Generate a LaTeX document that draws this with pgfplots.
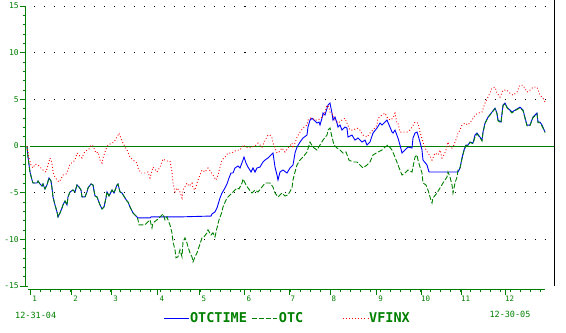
\documentclass[border=0pt]{standalone}
\usepackage{pgfplots}
\pgfplotsset{compat=1.18}
\usepackage{fontspec}
\setmainfont{DejaVu Sans Mono}
\definecolor{dgreen}{RGB}{0,128,0}
\definecolor{pblue}{RGB}{0,0,255}
\definecolor{pred}{RGB}{255,0,0}
\begin{document}
\begin{tikzpicture}
\begin{axis}[
  x=1pt, y=9.333pt,
  xmin=26, xmax=554, ymin=-15.33, ymax=15.65,
  clip=false,
  axis x line*=bottom, axis y line*=left,
  x axis line style={draw=none}, y axis line style={draw=none},
  tick align=outside,
  major tick length=6pt, minor tick length=3pt,
  every tick/.style={dgreen, line width=1pt},
  ytick={-15,-10,-5,0,5,10,15},
  yticklabels={-15,-10,-5,0,5,10,15},
  minor ytick={-14,-13,-12,-11,-9,-8,-7,-6,-4,-3,-2,-1,1,2,3,4,6,7,8,9,11,12,13,14},
  xtick={30.7,71.7,111.7,158,200,245,289,330,376.7,421.7,461.7,505.7},
  xticklabels={1,2,3,4,5,6,7,8,9,10,11,12},
  minor xtick={30.7,40.7,...,541},
  yticklabel style={text=dgreen, font=\fontsize{8}{9}\selectfont, inner sep=1pt},
  xticklabel style={text=dgreen, font=\fontsize{7.5}{8}\selectfont, xshift=4pt, inner sep=1pt},
  legend columns=3,
  legend style={at={(axis cs:163,-18.43)}, anchor=west, draw=none, fill=none,
    inner sep=0pt, nodes={inner sep=1pt, text=dgreen},
    font=\bfseries\fontsize{13.5}{14}\selectfont,
    /tikz/every even column/.append style={column sep=4pt}},
  legend image code/.code={\draw[#1] (0pt,0pt) -- (25pt,0pt);},
]
% grid dots
\foreach \v in {-10,-5,5,10,15} {
  \edef\temp{\noexpand\draw[black, line width=1pt, dash pattern=on 1pt off 9pt] (axis cs:34.5,\v) -- (axis cs:549,\v);}
  \temp
}
% zero line
\draw[dgreen, line width=1pt] (axis cs:30,0) -- (axis cs:554,0);
% axes
\draw[dgreen, line width=1pt] (axis cs:26,15) -- (axis cs:26,-15) -- (axis cs:28,-15);
\draw[dgreen, line width=1pt] (axis cs:28,-15.33) -- (axis cs:545,-15.33);
\draw[black, line width=1pt] (axis cs:554,15.65) -- (axis cs:554,-15.0);

\addplot[pblue, line width=0.9pt] table {
27 0
28 -1.18
30 -2.78
32 -3.64
33 -3.96
37 -3.96
38 -3.75
40 -4.06
42 -4.28
43 -4.06
45 -4.60
47 -4.17
49 -3.42
51 -3.75
52 -4.49
53 -5.45
55 -6.31
57 -7.06
58 -7.59
60 -7.17
62 -6.63
63 -6.31
65 -5.89
67 -6.31
68 -5.45
70 -4.92
73 -4.71
75 -4.92
77 -4.17
79 -4.39
81 -4.71
82 -5.45
85 -5.45
87 -4.92
88 -4.49
91 -4.06
93 -4.17
95 -5.35
97 -5.45
100 -6.31
102 -6.74
104 -6.52
106 -5.56
107 -4.92
109 -5.35
112 -4.71
114 -5.03
117 -4.17
118 -4.06
120 -4.92
122 -5.03
125 -5.56
127 -5.89
128 -6.0
130 -6.52
133 -7.17
137 -7.59
138 -7.70
150 -7.70
151 -7.59
180 -7.59
211 -7.5
212 -7.27
215 -7.06
217 -6.63
220 -5.56
222 -5.03
225 -4.49
227 -4.06
229 -3.42
231 -2.89
233 -2.89
235 -2.35
238 -2.14
240 -2.35
243 -1.50
244 -1.18
246 -1.82
248 -2.25
251 -2.78
253 -2.35
255 -2.78
257 -2.35
260 -2.25
263 -1.70
265 -1.50
268 -1.28
270 -1.07
273 -0.75
275 -2.25
277 -3.10
278 -3.64
280 -2.78
283 -2.57
287 -2.89
290 -2.35
293 -2.03
295 -0.75
297 -0.11
300 0.43
303 0.86
307 1.18
308 2.03
310 2.78
312 2.99
314 2.78
317 2.46
319 2.57
320 2.25
322 2.99
323 3.53
325 3.32
328 4.39
330 4.60
332 3.53
333 2.78
335 3.10
337 2.46
338 2.03
340 2.25
342 1.71
345 2.03
347 1.93
348 0.96
352 1.18
355 0.64
358 0.86
362 0.43
365 0.64
367 0.11
370 0.43
373 1.39
377 1.93
380 2.46
382 2.25
385 2.57
387 2.78
390 2.03
392 1.50
393 1.39
395 1.71
398 0.86
400 0.11
402 -0.75
405 -0.43
408 -0.11
412 -0.21
413 0.86
415 1.39
417 1.50
418 1.18
420 0.43
422 -0.43
423 -1.50
427 -2.03
429 -2.78
458 -2.78
460 -2.35
462 -1.28
464 -0.43
466 0.11
468 0.11
470 0.43
473 0.32
475 1.18
477 1.39
480 0.96
482 0.64
483 1.50
485 2.46
488 3.10
492 3.64
495 4.06
497 3.53
498 2.78
501 2.57
503 4.39
505 4.60
507 4.17
508 4.06
512 3.64
515 3.85
520 4.17
523 3.85
527 2.25
530 2.25
533 3.10
537 3.53
538 2.57
540 2.57
542 2.25
545 1.50
};
\addlegendentry{OTCTIME}

\addplot[dgreen, line width=0.9pt, dash pattern=on 5pt off 2pt] table {
27 0
28 -1.18
30 -2.78
32 -3.64
33 -3.96
37 -3.96
38 -3.75
40 -4.06
42 -4.28
43 -4.06
45 -4.60
47 -4.17
49 -3.42
51 -3.75
52 -4.49
53 -5.45
55 -6.31
57 -7.06
58 -7.59
60 -7.17
62 -6.63
63 -6.31
65 -5.89
67 -6.31
68 -5.45
70 -4.92
73 -4.71
75 -4.92
77 -4.17
79 -4.39
81 -4.71
82 -5.45
85 -5.45
87 -4.92
88 -4.49
91 -4.06
93 -4.17
95 -5.35
97 -5.45
100 -6.31
102 -6.74
104 -6.52
106 -5.56
107 -4.92
109 -5.35
112 -4.71
114 -5.03
117 -4.17
118 -4.06
120 -4.92
122 -5.03
125 -5.56
127 -5.89
128 -6.0
130 -6.52
133 -7.17
137 -7.59
138 -7.91
139 -8.45
145 -8.45
148 -8.10
150 -7.91
152 -8.77
153 -8.24
157 -7.91
160 -7.59
163 -7.27
165 -7.91
167 -7.59
168 -7.91
170 -8.45
172 -9.30
173 -10.27
175 -11.12
176 -11.98
178 -11.87
180 -11.12
182 -11.87
183 -10.27
185 -9.84
187 -10.38
188 -10.80
190 -11.44
192 -11.87
193 -12.41
195 -11.87
197 -11.44
199 -10.80
202 -9.84
204 -9.73
207 -9.30
208 -8.98
211 -9.52
213 -9.30
215 -9.73
217 -8.77
219 -7.91
222 -7.06
223 -6.52
226 -5.78
228 -5.45
230 -5.24
233 -4.92
235 -4.71
237 -4.49
239 -4.60
242 -3.96
243 -3.53
246 -4.17
248 -4.49
252 -5.03
255 -4.71
258 -4.92
262 -4.39
265 -3.96
270 -3.96
273 -4.39
275 -5.03
278 -5.45
282 -5.03
285 -5.35
288 -5.24
292 -4.49
293 -3.64
295 -2.78
297 -2.03
300 -1.50
303 -1.18
307 -0.64
310 0.43
313 -0.11
317 -0.43
320 0.11
323 0.64
327 1.18
328 1.71
330 1.93
332 0.96
334 0.11
337 -0.21
340 -0.43
343 -0.75
346 -0.64
349 -1.50
353 -1.71
357 -1.71
360 -2.03
363 -2.35
367 -2.03
370 -1.71
373 -0.96
378 -0.64
382 -0.43
385 -0.11
388 0.11
392 -0.43
395 -1.18
398 -2.03
400 -2.57
402 -3.10
405 -2.89
408 -2.57
412 -2.78
415 -1.18
417 -0.96
418 -1.50
420 -2.25
422 -2.89
423 -3.96
426 -4.17
428 -4.71
430 -5.45
432 -6.10
433 -5.56
437 -5.03
440 -4.49
443 -3.96
447 -3.32
448 -2.78
450 -3.32
452 -4.17
453 -5.03
455 -3.96
457 -3.32
458 -2.57
460 -2.35
462 -1.35
464 -0.50
466 0.05
468 0.05
470 0.40
473 0.25
475 0.96
477 1.30
480 0.90
482 0.55
483 1.45
485 2.40
488 3.05
492 3.60
495 4.00
497 3.45
498 2.70
501 2.50
503 4.30
505 4.55
507 4.10
508 4.00
512 3.55
515 3.80
520 4.10
523 3.80
527 2.15
530 2.20
533 3.05
537 3.45
538 2.50
540 2.50
542 2.15
545 1.45
};
\addlegendentry{OTC\rule{34pt}{0pt}}

\addplot[pred, line width=0.9pt, dash pattern=on 0.9pt off 2.2pt] table {
27 0
29 -1.28
31 -2.03
33 -2.35
35 -1.93
38 -2.03
41 -2.35
43 -2.57
46 -2.78
48 -2.03
50 -1.28
52 -1.82
53 -2.78
55 -3.32
57 -3.64
59 -3.85
61 -3.53
63 -3.10
66 -3.00
68 -2.57
70 -1.93
73 -1.71
75 -1.50
77 -0.75
79 -1.00
82 -1.28
84 -0.75
87 -0.43
89 -0.32
91 0.11
93 0.00
96 -0.75
98 -0.64
100 -1.50
102 -1.82
103 -1.28
106 -0.32
108 0.11
112 0.32
114 0.43
117 0.96
119 1.39
122 0.54
124 0.11
127 -0.43
130 -1.18
133 -1.50
137 -1.82
138 -2.35
141 -2.89
145 -2.89
148 -2.78
150 -3.42
153 -2.25
157 -2.78
160 -2.25
163 -1.39
167 -1.60
170 -1.60
172 -2.78
173 -3.96
175 -4.92
177 -4.49
180 -4.92
182 -5.56
183 -4.71
187 -3.96
189 -4.30
192 -3.96
193 -4.49
195 -4.71
198 -3.64
202 -2.57
205 -2.78
208 -2.35
211 -2.78
213 -3.10
216 -3.64
218 -3.10
220 -2.25
222 -1.50
225 -1.18
228 -0.75
232 -0.75
233 -0.64
237 -0.43
240 -0.43
243 0.11
246 -0.11
249 -0.21
252 -0.10
255 0.00
258 0.32
262 -0.11
265 0.60
268 1.18
270 1.18
272 0.86
273 0.32
277 -0.75
279 -0.64
282 -0.21
285 -0.64
288 -0.21
292 0.32
293 -0.21
295 0.32
297 0.96
300 1.50
303 1.93
307 2.25
308 2.78
310 2.99
312 2.99
315 2.78
318 2.78
322 3.10
325 3.64
327 4.39
329 4.17
330 3.64
333 3.32
335 2.78
338 2.46
342 2.78
345 2.99
347 2.46
350 1.71
353 1.71
357 1.93
360 1.71
363 1.18
367 0.96
370 1.40
373 1.71
377 2.25
378 2.99
382 3.32
385 3.53
387 3.10
390 2.78
393 2.99
395 3.53
397 2.46
398 2.46
400 1.50
403 1.50
407 1.50
410 1.71
412 2.03
415 2.57
418 2.46
420 1.50
423 0.43
425 -0.21
428 -0.75
430 -1.07
432 -1.50
435 -0.75
438 -0.96
440 -0.43
442 -1.28
444 -0.96
446 -0.43
448 0.43
450 -0.11
452 -0.21
454 0.11
455 0.43
457 0.96
458 1.39
460 1.71
462 2.25
465 2.46
468 2.25
472 2.78
475 3.32
478 3.53
482 3.64
485 4.60
488 5.24
492 6.20
495 6.31
497 5.67
500 5.24
503 5.99
507 5.99
510 5.67
513 5.45
517 5.78
520 6.52
523 6.52
527 5.78
530 5.99
533 6.31
537 6.31
540 5.45
543 5.13
545 4.71
};
\addlegendentry{VFINX}

\node[anchor=west, text=dgreen, font=\fontsize{8.5}{9}\selectfont, inner sep=0pt] at (axis cs:15,-18.16) {12-31-04};
\node[anchor=center, text=dgreen, font=\fontsize{8.5}{9}\selectfont, inner sep=0pt] at (axis cs:510,-18.05) {12-30-05};
\coordinate (BL) at (axis cs:0,-19.94);
\coordinate (TR) at (axis cs:566,15.65);
\end{axis}
\pgfresetboundingbox
\path[use as bounding box] (BL) rectangle (TR);
\end{tikzpicture}
\end{document}
